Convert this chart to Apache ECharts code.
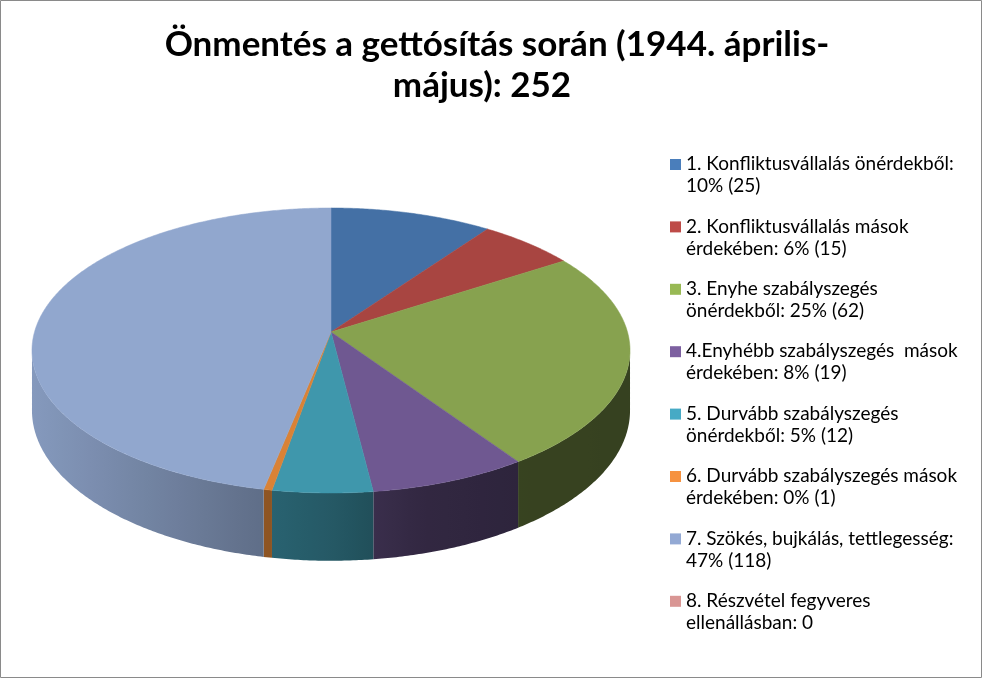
<!DOCTYPE html>
<html><head><meta charset="utf-8">
<script src="https://cdn.jsdelivr.net/npm/echarts@6/dist/echarts.min.js"></script>
<style>html,body{margin:0;padding:0;background:#fff}#c{width:983px;height:679px}</style>
</head><body><div id="c"></div>
<script>
const titleLines = ['Önmentés a gettósítás során (1944. április-', 'május): 252'];
const categories = [
  '1. Konfliktusvállalás önérdekből',
  '2. Konfliktusvállalás mások érdekében',
  '3. Enyhe szabályszegés önérdekből',
  '4.Enyhébb szabályszegés mások érdekében',
  '5. Durvább szabályszegés önérdekből',
  '6. Durvább szabályszegés mások érdekében',
  '7. Szökés, bujkálás, tettlegesség',
  '8. Részvétel fegyveres ellenállásban'
];
const values = [25, 15, 62, 19, 12, 1, 118, 0];
const legendLabels = [
  '1. Konfliktusvállalás önérdekből:\n10% (25)',
  '2. Konfliktusvállalás mások\nérdekében: 6% (15)',
  '3. Enyhe szabályszegés\nönérdekből: 25% (62)',
  '4.Enyhébb szabályszegés  mások\nérdekében: 8% (19)',
  '5. Durvább szabályszegés\nönérdekből: 5% (12)',
  '6. Durvább szabályszegés mások\nérdekében: 0% (1)',
  '7. Szökés, bujkálás, tettlegesség:\n47% (118)',
  '8. Részvétel fegyveres\nellenállásban: 0'
];
const topColors = ['#4470A5', '#A84541', '#87A24F', '#6F5891', '#3F97AC', '#D98236', '#91A7CE', '#D49693'];
const legendColors = ['#4A7EBB', '#BE4B48', '#98B954', '#7D60A0', '#46AAC5', '#F69240', '#93A9D4', '#D99694'];

// geometry (perspective projection of a tilted disc)
const G = {cx: 331, cy: 332, K: 296.5, Kp: 140.1, p: 0.1297, h: 59};
function proj(t, down) {
  const X = Math.sin(t), Y = Math.cos(t), w = 1 + G.p * Y;
  return [G.cx + G.K * X / w, G.cy - G.Kp * Y / w + (down ? G.h / w : 0)];
}
const visA = Math.atan2(Math.sqrt(1 - G.p * G.p), -G.p);
const visB = 2 * Math.PI - visA;
const shadePts = [[30, 0.92], [262, 0.66], [330, 0.59], [420, 0.45], [520, 0.41], [640, 0.40]];
function shade(x) {
  if (x <= shadePts[0][0]) return shadePts[0][1];
  for (let i = 1; i < shadePts.length; i++) {
    if (x <= shadePts[i][0]) {
      const a = shadePts[i - 1], b = shadePts[i];
      return a[1] + (b[1] - a[1]) * (x - a[0]) / (b[0] - a[0]);
    }
  }
  return shadePts[shadePts.length - 1][1];
}
function scaleColor(hex, f) {
  const n = parseInt(hex.slice(1), 16);
  const r = Math.round(((n >> 16) & 255) * f), g = Math.round(((n >> 8) & 255) * f), b = Math.round((n & 255) * f);
  return 'rgb(' + r + ',' + g + ',' + b + ')';
}
function arc(a0, a1, down) {
  const n = Math.max(2, Math.ceil((a1 - a0) / (Math.PI / 360)));
  const pts = [];
  for (let k = 0; k <= n; k++) pts.push(proj(a0 + (a1 - a0) * k / n, down));
  return pts;
}
const total = values.reduce((s, v) => s + v, 0);

const chart = echarts.init(document.getElementById('c'));
chart.setOption({
  animation: false,
  backgroundColor: '#fff',
  graphic: [
    {type: 'rect', shape: {x: 0.5, y: 0.5, width: 981, height: 677}, style: {fill: 'none', stroke: '#8a8a8a', lineWidth: 1}, silent: true},
    {type: 'text', x: 497, y: 45, style: {text: titleLines[0], align: 'center', verticalAlign: 'middle', font: 'bold 35px Lato', fill: '#000'}},
    {type: 'text', x: 482, y: 86, style: {text: titleLines[1], align: 'center', verticalAlign: 'middle', font: 'bold 35px Lato', fill: '#000'}}
  ],
  legend: {
    orient: 'vertical',
    left: 665,
    top: 148,
    selectedMode: false,
    data: categories,
    itemWidth: 11,
    itemHeight: 44,
    itemGap: 18.4,
    icon: 'path://M0,6L11,6L11,17L0,17Z M0,0L0,0 M0,44L0,44',
    itemStyle: {borderWidth: 0},
    formatter: function (name) { return legendLabels[categories.indexOf(name)]; },
    textStyle: {fontFamily: 'Lato', fontSize: 19, lineHeight: 22, color: '#000'}
  },
  series: [
    {
      type: 'pie',
      center: [-3000, -3000],
      radius: 10,
      silent: true,
      label: {show: false},
      data: categories.map((c, i) => ({name: c, value: values[i], itemStyle: {color: legendColors[i]}}))
    },
    {
      type: 'custom',
      coordinateSystem: 'none',
      silent: true,
      data: values,
      renderItem: function (params, api) {
        const i = params.dataIndex;
        const v = api.value(0);
        if (!v) return null;
        let before = 0;
        for (let j = 0; j < i; j++) before += values[j];
        const a0 = before / total * 2 * Math.PI, a1 = (before + v) / total * 2 * Math.PI;
        const children = [];
        const w0 = Math.max(a0, visA), w1 = Math.min(a1, visB);
        if (w1 > w0) {
          const topE = arc(w0, w1, false), botE = arc(w0, w1, true).reverse();
          const pts = topE.concat(botE);
          let xmin = Infinity, xmax = -Infinity;
          pts.forEach(q => { xmin = Math.min(xmin, q[0]); xmax = Math.max(xmax, q[0]); });
          const stops = [];
          for (let k = 0; k <= 8; k++) {
            const x = xmin + (xmax - xmin) * k / 8;
            stops.push({offset: k / 8, color: scaleColor(topColors[i], shade(x))});
          }
          children.push({
            type: 'polygon', z2: 1,
            shape: {points: pts},
            style: {fill: {type: 'linear', x: xmin, y: 0, x2: xmax + 0.01, y2: 0, global: true, colorStops: stops}, stroke: null}
          });
        }
        const topPts = [[G.cx, G.cy]].concat(arc(a0, a1, false));
        children.push({type: 'polygon', z2: 10, shape: {points: topPts}, style: {fill: topColors[i], stroke: topColors[i], lineWidth: 0.5}});
        return {type: 'group', children: children};
      }
    }
  ]
});
</script>
</body></html>
